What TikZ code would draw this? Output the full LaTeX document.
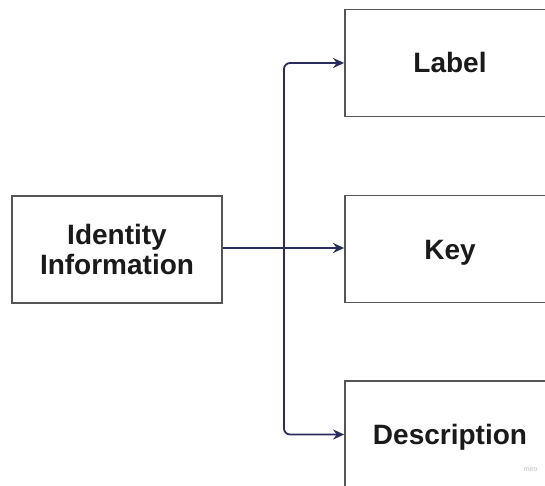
\documentclass[tikz,border=0pt]{standalone}
\usepackage{fontspec}
\setmainfont{Liberation Sans}
\usetikzlibrary{arrows.meta}
\definecolor{boxline}{HTML}{555555}
\definecolor{conncol}{HTML}{2A2C5C}
\definecolor{txt}{HTML}{1A1A1A}
\tikzset{
  box/.style={draw=boxline, line width=1.8pt, fill=white, minimum width=210pt, minimum height=107pt,
    inner sep=0pt, align=center, text=txt,
    font=\fontsize{28}{30.5}\selectfont\bfseries},
  onebox/.style={box, text height=20pt, text depth=0pt},
  conn/.style={draw=conncol, line width=1.8pt, -{Stealth[length=11pt,width=10pt]}},
}
\begin{document}
\begin{tikzpicture}[x=1pt,y=-1pt]
\useasboundingbox (0,0) rectangle (545,486);
\clip (0,0) rectangle (545,486);
\node[box] (id) at (117,249.5) {Identity\\Information};
\node[onebox] (label) at (450,63) {Label};
\node[onebox] (key) at (450,249) {Key};
\node[onebox] (desc) at (450,434.5) {Description};
\coordinate (hub) at (284,248);
\draw[conn] (id.east |- hub) -- (key.west |- hub);
\draw[conn, rounded corners=6pt] (hub) |- (label.west);
\draw[conn, rounded corners=6pt] (hub) |- (desc.west);
\node[text=black!25, font=\fontsize{7}{8}\selectfont, anchor=east] (miro) at (541,469) {miro};
\end{tikzpicture}
\end{document}
